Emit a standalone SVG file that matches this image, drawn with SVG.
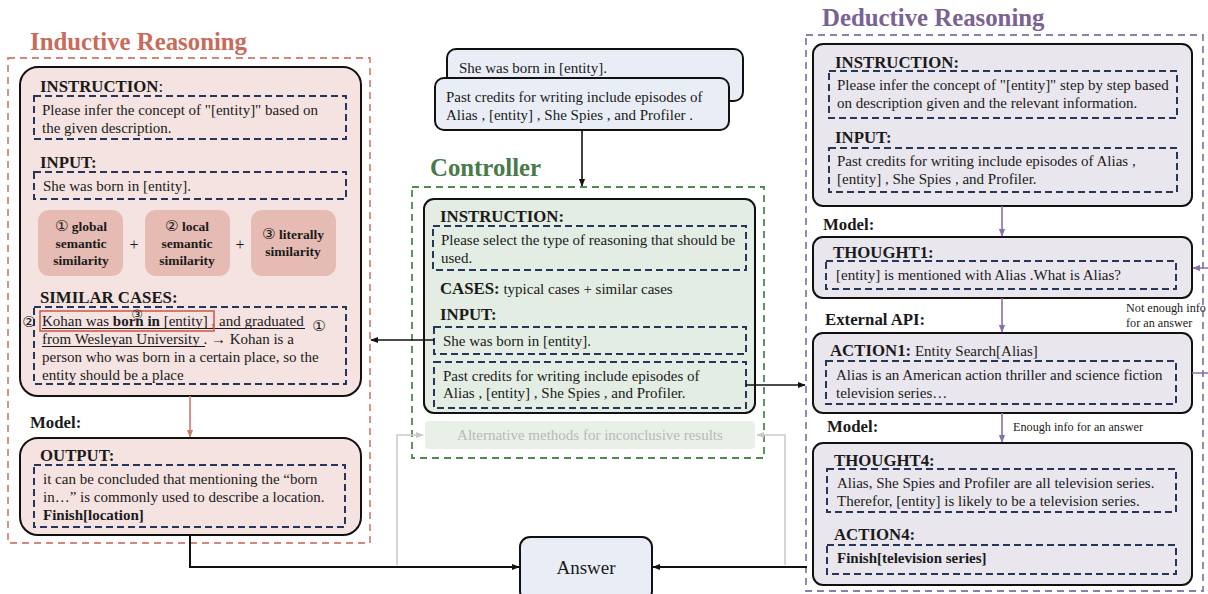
<svg xmlns="http://www.w3.org/2000/svg" width="1208" height="594" viewBox="0 0 1208 594">
<defs>
<style>
text{font-family:"Liberation Serif","DejaVu Serif",serif;fill:#1a1a1a}
.t{font-size:15px}
.h{font-size:16.8px;font-weight:bold}
.b{font-weight:bold}
.title{font-size:24.8px;font-weight:bold}
.sm{font-size:12.2px}
.card{stroke:#111;stroke-width:2}
.dash{fill:none;stroke:#26365a;stroke-width:2;stroke-dasharray:7,4}
.sim{fill:#e6bbb3}
.simt{font-size:13.5px;font-weight:bold;text-anchor:middle}
.c{font-family:"DejaVu Sans",sans-serif;font-weight:normal}
</style>
<marker id="ak" viewBox="0 0 10 10" refX="9" refY="5" markerWidth="8" markerHeight="8" orient="auto" markerUnits="userSpaceOnUse"><path d="M0,1 L10,5 L0,9 z" fill="#111"/></marker>
<marker id="ap" viewBox="0 0 10 10" refX="9" refY="5" markerWidth="8" markerHeight="8" orient="auto" markerUnits="userSpaceOnUse"><path d="M0,1 L10,5 L0,9 z" fill="#8a70a8"/></marker>
<marker id="ar" viewBox="0 0 10 10" refX="9" refY="5" markerWidth="8" markerHeight="8" orient="auto" markerUnits="userSpaceOnUse"><path d="M0,1 L10,5 L0,9 z" fill="#d07a6c"/></marker>
<marker id="ag" viewBox="0 0 10 10" refX="9" refY="5" markerWidth="8" markerHeight="8" orient="auto" markerUnits="userSpaceOnUse"><path d="M0,1 L10,5 L0,9 z" fill="#c8c8c8"/></marker>
</defs>
<rect width="1208" height="594" fill="#fff"/>

<!-- Inductive Reasoning -->
<g id="inductive">
<text x="30" y="50" class="title" style="fill:#c96b5a">Inductive Reasoning</text>
<rect x="8" y="58" width="362" height="485" fill="none" stroke="#d4877a" stroke-width="1.8" stroke-dasharray="7,5"/>
</g>
<g id="ind-prompt">
<rect x="20" y="67" width="341" height="329" rx="18" fill="#f5e3e1" class="card"/>
<text x="40" y="92" class="h">INSTRUCTION<tspan style="font-weight:normal">:</tspan></text>
<rect x="34" y="96" width="312" height="43" class="dash"/>
<text x="42" y="115" class="t">Please infer the concept of "[entity]" based on</text>
<text x="42" y="133" class="t">the given description.</text>
<text x="40" y="168" class="h">INPUT:</text>
<rect x="34" y="172" width="312" height="27" class="dash"/>
<text x="43" y="191" class="t">She was born in [entity].</text>
<rect x="38" y="210" width="85" height="66" rx="11" class="sim"/>
<rect x="145" y="210" width="85" height="66" rx="11" class="sim"/>
<rect x="251" y="210" width="85" height="66" rx="11" class="sim"/>
<text x="81" y="231" class="simt"><tspan class="c" style="font-size:15px">①</tspan> global</text>
<text x="81" y="248" class="simt">semantic</text>
<text x="81" y="265" class="simt">similarity</text>
<text x="187" y="231" class="simt"><tspan class="c" style="font-size:15px">②</tspan> local</text>
<text x="187" y="248" class="simt">semantic</text>
<text x="187" y="265" class="simt">similarity</text>
<text x="293" y="239" class="simt"><tspan class="c" style="font-size:15px">③</tspan> literally</text>
<text x="293" y="256" class="simt">similarity</text>
<text x="134" y="250" class="t" text-anchor="middle" style="font-size:16px">+</text>
<text x="240" y="250" class="t" text-anchor="middle" style="font-size:16px">+</text>
<text x="40" y="303" class="h">SIMILAR CASES:</text>
<rect x="34" y="307" width="312" height="77" class="dash"/>
<text x="42" y="326" class="t">Kohan was <tspan class="b">born in</tspan> [entity]  , and graduated</text>
<line x1="42" y1="328.5" x2="305" y2="328.5" stroke="#1a1a1a" stroke-width="1"/>
<rect x="40" y="311" width="174" height="20" fill="none" stroke="#d0604e" stroke-width="1.6"/>
<text x="29" y="327" class="c" style="font-size:15px" text-anchor="middle">②</text>
<text x="137" y="319" class="c" style="font-size:13px" text-anchor="middle">③</text>
<text x="319" y="331" class="c" style="font-size:15px" text-anchor="middle">①</text>
<text x="42" y="344" class="t">from Wesleyan University . → Kohan is a</text>
<line x1="42" y1="346.5" x2="205" y2="346.5" stroke="#1a1a1a" stroke-width="1"/>
<text x="42" y="362" class="t">person who was born in a certain place, so the</text>
<text x="42" y="380" class="t">entity should be a place</text>
</g>
<g id="ind-output">
<text x="30" y="428" class="h">Model:</text>
<rect x="20" y="438" width="341" height="97" rx="18" fill="#f5e3e1" class="card"/>
<text x="40" y="461" class="h">OUTPUT:</text>
<rect x="34" y="465" width="311" height="62" class="dash"/>
<text x="43" y="484" class="t">it can be concluded that mentioning the “born</text>
<text x="43" y="502" class="t">in…” is commonly used to describe a location.</text>
<text x="43" y="520" class="t b">Finish[location]</text>
</g>

<!-- Input cards -->
<g id="inputs">
<rect x="447" y="49" width="296" height="52" rx="9" fill="#e9eef6" class="card"/>
<text x="459" y="73" class="t">She was born in [entity].</text>
<rect x="435" y="78" width="294" height="52" rx="9" fill="#e9eef6" class="card"/>
<text x="446" y="102" class="t">Past credits for writing include episodes of</text>
<text x="446" y="120" class="t">Alias , [entity] , She Spies , and Profiler .</text>
</g>

<!-- Controller -->
<g id="controller">
<text x="430" y="176" class="title" style="fill:#4a7a4a">Controller</text>
<rect x="412" y="187" width="352" height="271" fill="none" stroke="#4f8a50" stroke-width="1.8" stroke-dasharray="7,5"/>
<rect x="424" y="199" width="331" height="214" rx="10" fill="#e3ede3" class="card"/>
<text x="440" y="222" class="h">INSTRUCTION:</text>
<rect x="433" y="226" width="313" height="44" class="dash"/>
<text x="441" y="245" class="t">Please select the type of reasoning that should be</text>
<text x="441" y="263" class="t">used.</text>
<text x="440" y="294" class="h">CASES:<tspan class="t" style="font-weight:normal"> typical cases + similar cases</tspan></text>
<text x="440" y="320" class="h">INPUT:</text>
<rect x="434" y="327" width="312" height="27" class="dash"/>
<text x="443" y="346" class="t">She was born in [entity].</text>
<rect x="434" y="362" width="312" height="46" class="dash"/>
<text x="443" y="381" class="t">Past credits for writing include episodes of</text>
<text x="443" y="398" class="t">Alias , [entity] , She Spies , and Profiler.</text>
</g>
<g id="alternative">
<rect x="425" y="421" width="330" height="28" rx="4" fill="#e8f0e8"/>
<text x="590" y="440" class="t" text-anchor="middle" style="fill:#b9b9b9">Alternative methods for inconclusive results</text>
</g>

<!-- Deductive Reasoning -->
<g id="deductive">
<text x="822" y="26" class="title" style="fill:#7a6294">Deductive Reasoning</text>
<rect x="806" y="35" width="397" height="556" fill="none" stroke="#8f7cae" stroke-width="1.8" stroke-dasharray="7,5"/>
</g>
<g id="ded-prompt">
<rect x="813" y="44" width="379" height="162" rx="10" fill="#e9e6ee" class="card"/>
<text x="835" y="68" class="h">INSTRUCTION:</text>
<rect x="829" y="71" width="348" height="47" class="dash"/>
<text x="837" y="90" class="t">Please infer the concept of "[entity]" step by step based</text>
<text x="837" y="108" class="t">on description given and the relevant information.</text>
<text x="835" y="143" class="h">INPUT:</text>
<rect x="829" y="148" width="348" height="44" class="dash"/>
<text x="837" y="166" class="t">Past credits for writing include episodes of Alias ,</text>
<text x="837" y="184" class="t">[entity] , She Spies , and Profiler.</text>
</g>
<g id="thought1">
<text x="823" y="230" class="h">Model:</text>
<rect x="813" y="237" width="379" height="61" rx="10" fill="#e9e6ee" class="card"/>
<text x="833" y="258" class="h">THOUGHT1:</text>
<rect x="826" y="261" width="350" height="28" class="dash"/>
<text x="836" y="280" class="t">[entity] is mentioned with Alias .What is Alias?</text>
</g>
<g id="action1">
<text x="825" y="325" class="h">External  API:</text>
<rect x="813" y="333" width="379" height="80" rx="10" fill="#e9e6ee" class="card"/>
<text x="830" y="356" class="h">ACTION1:<tspan class="t" style="font-weight:normal"> Entity Search[Alias]</tspan></text>
<rect x="826" y="361" width="350" height="43" class="dash"/>
<text x="836" y="380" class="t">Alias is an American action thriller and science fiction</text>
<text x="836" y="398" class="t">television series…</text>
</g>
<g id="thought4">
<text x="827" y="432" class="h">Model:</text>
<rect x="813" y="443" width="379" height="142" rx="10" fill="#e9e6ee" class="card"/>
<text x="834" y="466" class="h">THOUGHT4:</text>
<rect x="827" y="469" width="349" height="43" class="dash"/>
<text x="837" y="488" class="t">Alias, She Spies and Profiler are all television series.</text>
<text x="837" y="506" class="t">Therefor, [entity] is likely to be a television series.</text>
<text x="834" y="540" class="h">ACTION4:</text>
<rect x="827" y="545" width="349" height="29" class="dash"/>
<text x="837" y="563" class="t b">Finish[television series]</text>
</g>

<!-- Answer -->
<g id="answer">
<rect x="520" y="537" width="132" height="64" rx="10" fill="#e9eef6" class="card"/>
<text x="586" y="574" text-anchor="middle" style="font-size:19px">Answer</text>
</g>

<!-- Connectors -->
<g id="connectors" fill="none">
<path d="M582,130 V186" stroke="#111" stroke-width="1.6" marker-end="url(#ak)"/>
<path d="M434,340 H371" stroke="#111" stroke-width="1.6" marker-end="url(#ak)"/>
<path d="M746,385 H805" stroke="#111" stroke-width="1.6" marker-end="url(#ak)"/>
<path d="M190,396 V437" stroke="#d07a6c" stroke-width="1.6" marker-end="url(#ar)"/>
<path d="M190,535 V567 H519" stroke="#111" stroke-width="2" marker-end="url(#ak)"/>
<path d="M807,567 H653" stroke="#111" stroke-width="2" marker-end="url(#ak)"/>
<path d="M397,565 V435 H423" stroke="#cccccc" stroke-width="1.6" marker-end="url(#ag)"/>
<path d="M785,565 V435 H757" stroke="#cccccc" stroke-width="1.6" marker-end="url(#ag)"/>
<path d="M1002,206 V236" stroke="#8a70a8" stroke-width="1.6" marker-end="url(#ap)"/>
<path d="M1002,298 V332" stroke="#8a70a8" stroke-width="1.6" marker-end="url(#ap)"/>
<path d="M1002,413 V442" stroke="#8a70a8" stroke-width="1.6" marker-end="url(#ap)"/>
<path d="M1192,373 H1212 V268 H1193" stroke="#8a70a8" stroke-width="1.6" marker-end="url(#ap)"/>
</g>
<g id="connector-labels">
<text x="1126" y="312" class="sm">Not enough info</text>
<text x="1126" y="327" class="sm">for an answer</text>
<text x="1013" y="431" class="sm">Enough info for an answer</text>
</g>
</svg>
